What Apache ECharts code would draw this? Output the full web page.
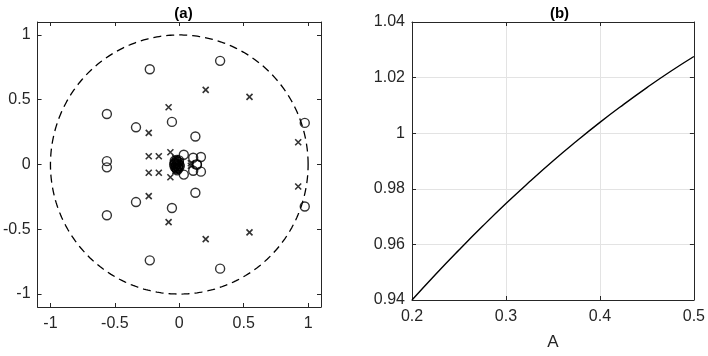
<!DOCTYPE html>
<html><head><meta charset="utf-8">
<script src="https://cdn.jsdelivr.net/npm/echarts@6/dist/echarts.min.js"></script>
<style>html,body{margin:0;padding:0;background:#fff}#c{width:708px;height:356px}</style>
</head><body><div id="c"></div>
<script>
// Panel (a): zeros (circles) and poles (crosses)
const zeroRe = [-0.229,-0.229, 0.317,0.317, -0.562,-0.562, -0.336,-0.336, -0.057,-0.057, 0.125,0.125, 0.974,0.974,
  -0.562,-0.562, 0.035,0.035, 0.108,0.108, 0.168,0.168, 0.137,0.137,
  -0.02,0.0,-0.035,-0.035,-0.005,-0.005,-0.02,-0.02,
  -0.03,-0.012,-0.028,-0.01,-0.04,0.004,-0.022,-0.016,-0.035,-0.002,-0.026,-0.008];
const zeroIm = [0.735,-0.740, 0.800,-0.804, 0.390,-0.392, 0.287,-0.290, 0.329,-0.336, 0.216,-0.218, 0.321,-0.324,
  0.026,-0.022, 0.075,-0.078, 0.052,-0.048, 0.058,-0.055, 0.003,-0.003,
  0.0,0.0,0.015,-0.02,0.02,-0.03,-0.035,0.025,
  0.008,0.01,-0.012,-0.014,0.0,-0.012,0.035,-0.045,0.03,0.032,-0.028,-0.022];
const poleRe = [0.205,0.205, 0.545,0.545, -0.083,-0.083, -0.237,-0.237, 0.923,0.923, -0.237,-0.237, -0.159,-0.159,
  -0.069,-0.069, 0.09,0.09, -0.03,-0.03];
const poleIm = [0.576,-0.576, 0.522,-0.524, 0.442,-0.445, 0.244,-0.244, 0.172,-0.170, 0.064,-0.064, 0.064,-0.064,
  0.095,-0.098, 0.01,-0.01, 0.05,-0.05];
const ticksA = [-1, -0.5, 0, 0.5, 1];

// Panel (b): curve
const aVals = [0.2,0.225,0.25,0.275,0.3,0.325,0.35,0.375,0.4,0.425,0.45,0.475,0.5];
const yVals = [0.9400,0.9492,0.9580,0.9665,0.9747,0.9825,0.9900,0.9971,1.0039,1.0103,1.0164,1.0222,1.0276];
const ticksBx = [0.2, 0.3, 0.4, 0.5];
const ticksBy = [0.94, 0.96, 0.98, 1.0, 1.02, 1.04];

// unit circle reference |z| = 1
const unitCircle = [];
for (let i = 0; i <= 360; i++) { const t = i * Math.PI / 180; unitCircle.push([Math.cos(t), Math.sin(t)]); }

const FONT = 'Liberation Sans, Arial, Helvetica, sans-serif';
const AX = '#262626';
const FS = 16;
function axis(opts, grid, pos, show, custom, min, max) {
  return Object.assign({
    type: 'value', gridIndex: grid, position: pos, min: min, max: max,
    axisLine: { show: true, onZero: false, lineStyle: { color: AX, width: 1 } },
    axisTick: { show: true, inside: true, length: 4, customValues: custom, lineStyle: { color: AX, width: 1 } },
    axisLabel: { show: show, customValues: custom, color: AX, fontFamily: FONT, fontSize: FS },
    splitLine: { show: false }
  }, opts);
}
const fmt = v => String(+(+v).toFixed(4));

const chart = echarts.init(document.getElementById('c'), null, { renderer: 'canvas' });
chart.setOption({
  animation: false,
  backgroundColor: '#fff',
  title: [
    { text: '(a)', left: 178.5, top: 1, textAlign: 'center', textStyle: { fontFamily: FONT, fontSize: 15, fontWeight: 'bold', color: '#000' } },
    { text: '(b)', left: 554.5, top: 1, textAlign: 'center', textStyle: { fontFamily: FONT, fontSize: 15, fontWeight: 'bold', color: '#000' } }
  ],
  grid: [
    { left: 36, top: 22, width: 285, height: 285 },
    { left: 412, top: 22, width: 285, height: 285 }
  ],
  xAxis: [
    axis({ axisLabel: { show: true, margin: 9, customValues: ticksA, color: AX, fontFamily: FONT, fontSize: FS, formatter: fmt } }, 0, 'bottom', true, ticksA, -1.1, 1.1),
    axis({}, 0, 'top', false, ticksA, -1.1, 1.1),
    axis({ name: 'A', nameLocation: 'middle', nameGap: 34, nameTextStyle: { fontFamily: FONT, fontSize: 17, color: AX },
      axisLabel: { show: true, margin: 9, customValues: ticksBx, color: AX, fontFamily: FONT, fontSize: FS, formatter: fmt },
      splitLine: { show: true, lineStyle: { color: '#e3e3e3', width: 1 } } }, 1, 'bottom', true, ticksBx, 0.2, 0.5),
    axis({}, 1, 'top', false, ticksBx, 0.2, 0.5)
  ],
  yAxis: [
    axis({ axisLabel: { show: true, margin: 7, customValues: ticksA, color: AX, fontFamily: FONT, fontSize: FS, formatter: fmt } }, 0, 'left', true, ticksA, -1.1, 1.1),
    axis({}, 0, 'right', false, ticksA, -1.1, 1.1),
    axis({ axisLabel: { show: true, margin: 7, customValues: ticksBy, color: AX, fontFamily: FONT, fontSize: FS, formatter: fmt },
      splitLine: { show: true, lineStyle: { color: '#e3e3e3', width: 1 } } }, 1, 'left', true, ticksBy, 0.94, 1.04),
    axis({}, 1, 'right', false, ticksBy, 0.94, 1.04)
  ],
  series: [
    { type: 'line', xAxisIndex: 0, yAxisIndex: 0, data: unitCircle, showSymbol: false, symbol: 'none',
      lineStyle: { color: '#000', width: 1.3, type: [8, 5] }, silent: true },
    { type: 'scatter', xAxisIndex: 0, yAxisIndex: 0, data: zeroRe.map((r, i) => [r, zeroIm[i]]),
      symbol: 'circle', symbolSize: 9, itemStyle: { color: 'rgba(0,0,0,0)', borderColor: '#000', borderWidth: 1.4 } },
    { type: 'scatter', xAxisIndex: 0, yAxisIndex: 0, data: poleRe.map((r, i) => [r, poleIm[i]]),
      symbol: 'path://M0,0L10,10M10,0L0,10', symbolSize: 6,
      itemStyle: { color: 'rgba(0,0,0,0)', borderColor: '#000', borderWidth: 1.6 } },
    { type: 'line', xAxisIndex: 2, yAxisIndex: 2, data: aVals.map((a, i) => [a, yVals[i]]),
      smooth: true, showSymbol: false, symbol: 'none', lineStyle: { color: '#000', width: 1.4 } }
  ]
});
</script></body></html>
